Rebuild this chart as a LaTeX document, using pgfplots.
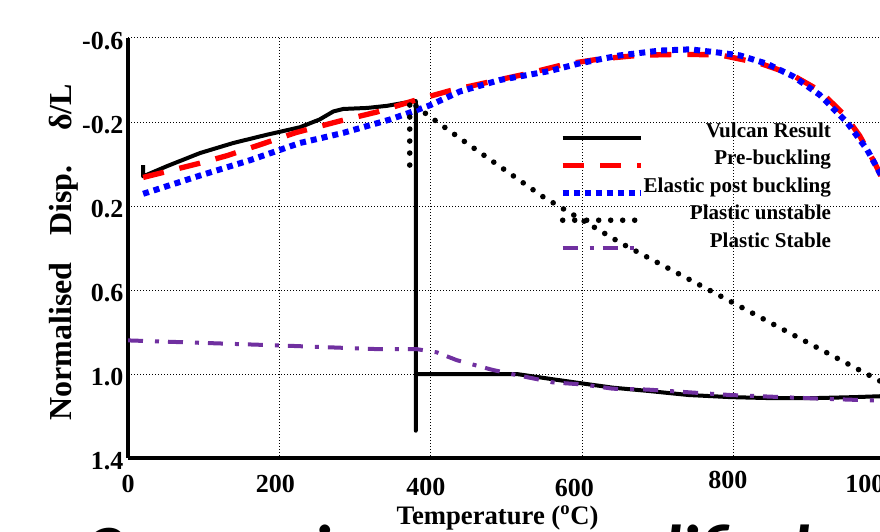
\documentclass[border=0pt]{standalone}
\usepackage{fontspec}
\setmainfont{Liberation Serif}
\newfontfamily\capfont{Carlito}
\usepackage{pgfplots}
\pgfplotsset{compat=1.18}
\definecolor{stablepurple}{HTML}{7030A0}
% tick label shifted by (#1 right, #2 up)
\newcommand\xtl[3]{\raisebox{#2}{\kern#1\relax#3\kern-#1\relax}}

\begin{document}
\begin{tikzpicture}
\begin{axis}[
  scale only axis,
  width=568pt, height=315pt,
  xmin=0, xmax=1000, ymin=-0.6, ymax=1.4,
  y dir=reverse,
  axis x line*=bottom, axis y line*=left,
  axis line style={line width=3pt, -},
  clip mode=individual,
  xtick={0,200,400,600,800,1000},
  xticklabels={\xtl{0pt}{0pt}{0},\xtl{-3pt}{0pt}{200},\xtl{-3.75pt}{-2.25pt}{400},\xtl{-6pt}{-3.5pt}{600},\xtl{-4.5pt}{3pt}{800},\xtl{-10.5pt}{0pt}{1000}},
  ytick={-0.6,-0.2,0.2,0.6,1.0,1.4},
  yticklabels={-0.6,-0.2,0.2,0.6,1.0,1.4},
  major tick length=0pt,
  grid=major,
  grid style={black, line width=0.75pt, dash pattern=on 0.75pt off 1.5pt},
  tick label style={font=\fontsize{19.5}{20}\selectfont\bfseries},
  x tick label style={anchor=base, yshift=-25.5pt},
  y tick label style={yshift=-2pt},
  xlabel={Temperature (\textsuperscript{o}C)},
  xlabel style={font=\fontsize{20}{22}\selectfont\bfseries, at={(axis description cs:0.488,0)}, anchor=base, yshift=-50pt, fill=white, inner sep=1.5pt},
  ylabel={Normalised\hspace{20pt}Disp.\hspace{26pt}δ/L},
  ylabel style={font=\fontsize{24}{26}\selectfont\bfseries, at={(axis description cs:-0.085,0.49)}, anchor=center},
  legend style={at={(axis description cs:0.57,0.802)}, anchor=north west, draw=none, fill=none,
    inner sep=0pt, outer sep=0pt, row sep=4.6pt, column sep=0pt,
    font=\fontsize{15.8}{18}\selectfont\bfseries,
    nodes={inner sep=0pt, text height=12pt, text depth=4pt}},
  legend cell align=right,
  legend image code/.code={\draw[#1] (0pt,-4.5pt) -- (58.5pt,-4.5pt);},
]
\coordinate (bl) at (axis cs:0,1.4);
\node[anchor=base west, inner sep=0pt, font=\capfont\bfseries\itshape\fontsize{53}{60}\selectfont]
  at (axis cs:0,1.4) [xshift=-33.75pt, yshift=-87pt] {Comparison of simplified model};

\addplot[black, line width=3pt, line join=round] coordinates {
(20,0.005)(20,0.059)(51,0.011)(95,-0.052)(139,-0.10)(183,-0.139)(227,-0.175)(253,-0.212)(271,-0.25)(284,-0.262)(316,-0.267)(342,-0.277)(372,-0.296)(380,-0.30)
(380,1.27)(380,1.0)(450,1.0)(513,1.0)(561,1.025)(600,1.045)(640,1.065)(685,1.08)(740,1.10)(795,1.11)(850,1.115)(904,1.115)(960,1.11)(1000,1.105)};
\addlegendentry{Vulcan Result}

\addplot[red, line width=4pt, dash pattern=on 16pt off 12pt] coordinates {
(20,0.064)(95,-0.004)(131,-0.04)(181,-0.10)(222,-0.15)(280,-0.205)(329,-0.248)(376,-0.30)(426,-0.35)(476,-0.39)(527,-0.43)(577,-0.475)(623,-0.50)(676,-0.518)(729,-0.522)(781,-0.52)(834,-0.48)(874,-0.43)(913,-0.35)(947,-0.23)(966,-0.135)(986,-0.005)(1000,0.1)};
\addlegendentry{Pre-buckling}

\addplot[blue, line width=4.5pt, dash pattern=on 4.5pt off 3.75pt] coordinates {
(20,0.142)(95,0.055)(161,-0.018)(227,-0.10)(284,-0.148)(346,-0.212)(380,-0.255)(399,-0.28)(438,-0.345)(491,-0.40)(557,-0.443)(597,-0.48)(649,-0.517)(702,-0.54)(742,-0.546)(781,-0.53)(808,-0.517)(844,-0.477)(878,-0.418)(913,-0.33)(949,-0.2)(976,-0.068)(993,0.044)(1000,0.09)};
\addlegendentry{Elastic post buckling}

\addplot[black, line width=4.2pt, line cap=round, dash pattern=on 0pt off 9pt] coordinates {
(372,0.005)(372,-0.30)(396,-0.232)(447,-0.10)(548,0.156)(652,0.379)(772,0.609)(865,0.788)(986,1.02)(1000,1.047)};
\addlegendentry{Plastic unstable}

\addplot[stablepurple, line width=3pt, dash pattern=on 11.25pt off 9pt on 3pt off 6.75pt] coordinates {
(0,0.84)(200,0.864)(333,0.882)(382,0.882)(408,0.897)(434,0.934)(482,0.981)(513,1.005)(561,1.04)(601,1.05)(640,1.07)(685,1.074)(795,1.10)(904,1.116)(983,1.126)(1000,1.126)};
\addlegendentry{Plastic Stable}
\end{axis}
\pgfresetboundingbox
\path[use as bounding box] (bl) ++(-96pt,-54.75pt) rectangle ++(660pt,398.25pt);
\end{tikzpicture}
\end{document}
